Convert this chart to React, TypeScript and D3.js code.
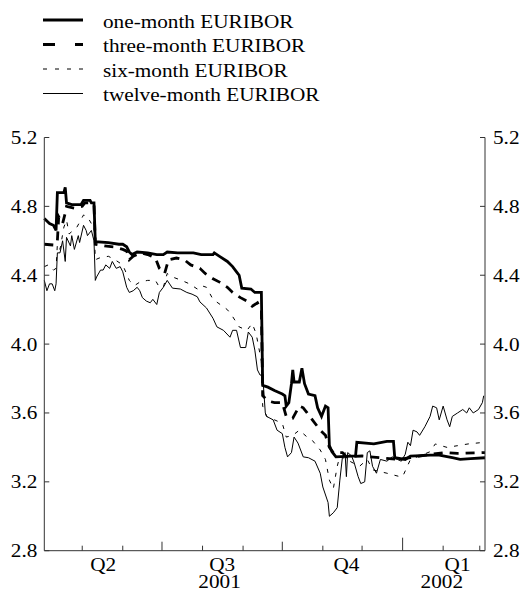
import React from "react";
import * as d3 from "d3";

type Pt = [string, number];

const oneMonth: Pt[] = [
  ["2001-04-02",4.73],["2001-04-06",4.70],["2001-04-09",4.69],["2001-04-11",4.66],["2001-04-12",4.88],["2001-04-17",4.88],["2001-04-18",4.91],["2001-04-19",4.82],["2001-04-23",4.81],["2001-04-30",4.81],["2001-05-02",4.835],["2001-05-07",4.835],["2001-05-08",4.82],["2001-05-10",4.82],["2001-05-11",4.595],["2001-05-21",4.59],["2001-05-29",4.58],["2001-06-01",4.58],["2001-06-04",4.565],["2001-06-06",4.535],["2001-06-08",4.52],["2001-06-12",4.535],["2001-06-20",4.53],["2001-06-27",4.52],["2001-07-02",4.52],["2001-07-05",4.535],["2001-07-13",4.53],["2001-07-25",4.53],["2001-07-31",4.52],["2001-08-09",4.52],["2001-08-10",4.53],["2001-08-14",4.51],["2001-08-20",4.48],["2001-08-24",4.45],["2001-08-27",4.42],["2001-08-29",4.40],["2001-08-31",4.325],["2001-09-07",4.32],["2001-09-10",4.30],["2001-09-15",4.30],["2001-09-16",3.76],["2001-09-20",3.75],["2001-09-25",3.73],["2001-10-01",3.71],["2001-10-03",3.70],["2001-10-04",3.64],["2001-10-06",3.66],["2001-10-08",3.77],["2001-10-09",3.85],["2001-10-10",3.78],["2001-10-14",3.78],["2001-10-16",3.86],["2001-10-18",3.77],["2001-10-21",3.71],["2001-10-26",3.70],["2001-10-28",3.63],["2001-10-31",3.58],["2001-11-03",3.64],["2001-11-05",3.63],["2001-11-06",3.41],["2001-11-08",3.375],["2001-11-11",3.345],["2001-11-26",3.35],["2001-11-27",3.43],["2001-12-10",3.42],["2001-12-20",3.435],["2001-12-25",3.435],["2001-12-26",3.34],["2002-01-03",3.33],["2002-01-07",3.35],["2002-01-22",3.355],["2002-01-29",3.355],["2002-02-08",3.34],["2002-02-14",3.33],["2002-02-22",3.335],["2002-03-05",3.34]
];

const threeMonth: Pt[] = [
  ["2001-04-02",4.58],["2001-04-10",4.575],["2001-04-12",4.60],["2001-04-13",4.74],["2001-04-16",4.70],["2001-04-18",4.76],["2001-04-19",4.80],["2001-04-25",4.79],["2001-05-01",4.80],["2001-05-03",4.82],["2001-05-07",4.82],["2001-05-10",4.81],["2001-05-11",4.58],["2001-05-18",4.57],["2001-05-25",4.565],["2001-06-01",4.55],["2001-06-04",4.54],["2001-06-06",4.49],["2001-06-09",4.51],["2001-06-15",4.53],["2001-06-20",4.52],["2001-06-26",4.50],["2001-06-29",4.44],["2001-07-03",4.41],["2001-07-06",4.49],["2001-07-12",4.50],["2001-07-18",4.49],["2001-07-23",4.46],["2001-07-30",4.44],["2001-08-03",4.41],["2001-08-09",4.38],["2001-08-14",4.36],["2001-08-20",4.33],["2001-08-24",4.30],["2001-08-30",4.27],["2001-09-04",4.25],["2001-09-08",4.22],["2001-09-12",4.24],["2001-09-15",4.20],["2001-09-16",3.70],["2001-09-20",3.67],["2001-09-25",3.66],["2001-10-01",3.66],["2001-10-04",3.58],["2001-10-09",3.57],["2001-10-14",3.64],["2001-10-17",3.63],["2001-10-20",3.60],["2001-10-24",3.56],["2001-10-30",3.50],["2001-11-03",3.47],["2001-11-06",3.40],["2001-11-09",3.37],["2001-11-16",3.37],["2001-11-19",3.345],["2001-12-01",3.35],["2001-12-15",3.34],["2001-12-28",3.33],["2002-01-07",3.34],["2002-01-14",3.35],["2002-01-22",3.36],["2002-02-04",3.37],["2002-02-12",3.365],["2002-03-05",3.37]
];

const sixMonth: Pt[] = [
  ["2001-04-02",4.45],["2001-04-05",4.46],["2001-04-09",4.43],["2001-04-11",4.44],["2001-04-12",4.58],["2001-04-14",4.55],["2001-04-17",4.68],["2001-04-19",4.72],["2001-04-21",4.64],["2001-04-24",4.66],["2001-04-27",4.68],["2001-05-02",4.75],["2001-05-05",4.74],["2001-05-08",4.70],["2001-05-10",4.70],["2001-05-11",4.49],["2001-05-14",4.50],["2001-05-21",4.51],["2001-05-26",4.49],["2001-06-01",4.46],["2001-06-06",4.37],["2001-06-10",4.34],["2001-06-14",4.36],["2001-06-20",4.37],["2001-06-26",4.37],["2001-06-29",4.33],["2001-07-02",4.33],["2001-07-05",4.41],["2001-07-09",4.39],["2001-07-16",4.37],["2001-07-22",4.35],["2001-07-28",4.32],["2001-07-31",4.34],["2001-08-04",4.33],["2001-08-09",4.26],["2001-08-20",4.20],["2001-08-24",4.16],["2001-08-29",4.10],["2001-09-04",4.08],["2001-09-08",4.12],["2001-09-11",4.06],["2001-09-13",3.98],["2001-09-15",3.90],["2001-09-16",3.64],["2001-09-19",3.58],["2001-09-25",3.56],["2001-10-01",3.54],["2001-10-04",3.46],["2001-10-09",3.47],["2001-10-14",3.50],["2001-10-20",3.46],["2001-10-24",3.44],["2001-10-30",3.385],["2001-11-03",3.33],["2001-11-06",3.21],["2001-11-09",3.16],["2001-11-12",3.29],["2001-11-14",3.35],["2001-11-19",3.33],["2001-11-29",3.29],["2001-12-05",3.33],["2001-12-09",3.27],["2001-12-20",3.25],["2001-12-30",3.23],["2002-01-01",3.23],["2002-01-07",3.33],["2002-01-14",3.35],["2002-01-22",3.375],["2002-01-26",3.42],["2002-02-04",3.40],["2002-02-12",3.41],["2002-02-20",3.42],["2002-03-05",3.43]
];

const twelveMonth: Pt[] = [
  ["2001-04-02",4.37],["2001-04-04",4.31],["2001-04-06",4.35],["2001-04-08",4.35],["2001-04-10",4.31],["2001-04-11",4.35],["2001-04-12",4.53],["2001-04-14",4.53],["2001-04-16",4.60],["2001-04-18",4.48],["2001-04-19",4.62],["2001-04-22",4.57],["2001-04-23",4.63],["2001-04-25",4.55],["2001-04-28",4.63],["2001-04-29",4.59],["2001-05-02",4.69],["2001-05-04",4.66],["2001-05-05",4.63],["2001-05-08",4.66],["2001-05-10",4.60],["2001-05-11",4.37],["2001-05-12",4.39],["2001-05-15",4.43],["2001-05-17",4.43],["2001-05-19",4.46],["2001-05-22",4.44],["2001-05-24",4.48],["2001-05-27",4.44],["2001-05-30",4.45],["2001-06-01",4.42],["2001-06-04",4.33],["2001-06-06",4.30],["2001-06-09",4.31],["2001-06-12",4.33],["2001-06-14",4.31],["2001-06-16",4.27],["2001-06-19",4.25],["2001-06-22",4.24],["2001-06-24",4.26],["2001-06-27",4.23],["2001-06-29",4.30],["2001-07-02",4.33],["2001-07-05",4.37],["2001-07-09",4.325],["2001-07-15",4.32],["2001-07-20",4.30],["2001-07-24",4.29],["2001-07-28",4.275],["2001-07-30",4.245],["2001-08-04",4.21],["2001-08-09",4.15],["2001-08-12",4.10],["2001-08-17",4.08],["2001-08-22",4.04],["2001-08-24",4.08],["2001-08-27",4.08],["2001-08-30",3.98],["2001-09-03",3.98],["2001-09-05",4.07],["2001-09-08",4.04],["2001-09-10",3.965],["2001-09-12",3.85],["2001-09-14",3.82],["2001-09-16",3.82],["2001-09-18",3.60],["2001-09-19",3.58],["2001-09-24",3.56],["2001-09-27",3.50],["2001-10-01",3.48],["2001-10-03",3.40],["2001-10-05",3.345],["2001-10-08",3.37],["2001-10-10",3.46],["2001-10-13",3.425],["2001-10-17",3.345],["2001-10-21",3.34],["2001-10-26",3.32],["2001-10-30",3.25],["2001-11-01",3.17],["2001-11-05",3.08],["2001-11-06",3.00],["2001-11-09",3.02],["2001-11-12",3.05],["2001-11-14",3.21],["2001-11-16",3.345],["2001-11-18",3.37],["2001-11-19",3.23],["2001-11-20",3.37],["2001-11-23",3.35],["2001-11-25",3.31],["2001-11-28",3.23],["2001-11-30",3.19],["2001-12-03",3.20],["2001-12-05",3.37],["2001-12-07",3.38],["2001-12-09",3.29],["2001-12-12",3.25],["2001-12-15",3.33],["2001-12-20",3.32],["2001-12-24",3.345],["2001-12-28",3.33],["2001-12-31",3.32],["2002-01-03",3.36],["2002-01-05",3.43],["2002-01-07",3.41],["2002-01-09",3.50],["2002-01-12",3.49],["2002-01-14",3.47],["2002-01-18",3.52],["2002-01-22",3.58],["2002-01-24",3.64],["2002-01-27",3.63],["2002-01-29",3.56],["2002-02-01",3.64],["2002-02-04",3.56],["2002-02-06",3.52],["2002-02-08",3.58],["2002-02-12",3.60],["2002-02-16",3.62],["2002-02-19",3.60],["2002-02-21",3.63],["2002-02-24",3.60],["2002-02-28",3.62],["2002-03-03",3.66],["2002-03-04",3.70]
];

const seriesNames = ["one-month EURIBOR", "three-month EURIBOR", "six-month EURIBOR", "twelve-month EURIBOR"];
const yTicks = [2.8, 3.2, 3.6, 4.0, 4.4, 4.8, 5.2];
const quarterDates = ["2001-05-17", "2001-08-16", "2001-11-19", "2002-02-12"];
const quarterNames = ["Q2", "Q3", "Q4", "Q1"];
const yearDates = ["2001-08-14", "2002-01-31"];
const yearNames = ["2001", "2002"];

const parse = d3.timeParse("%Y-%m-%d");
const FONT = "Liberation Serif, DejaVu Serif, Times New Roman, serif";
const FS = 19.5;
const SX = 1.09;

export default function App() {
  const W = 526, H = 595;
  const left = 44.3, right = 485, top = 137.5, bottom = 550.7;
  const x = d3.scaleTime().domain([parse("2001-04-02")!, parse("2002-03-05")!]).range([left, right]);
  const y = d3.scaleLinear().domain([2.8, 5.2]).range([bottom, top]);
  const line = d3.line<Pt>().x(d => x(parse(d[0])!)).y(d => y(d[1]));

  const styles = [
    { data: oneMonth, width: 2.8, dash: undefined as string | undefined, legDash: undefined as string | undefined },
    { data: threeMonth, width: 2.8, dash: "9,7", legDash: "12,20" },
    { data: sixMonth, width: 1, dash: "4,7", legDash: "4,8" },
    { data: twelveMonth, width: 1, dash: undefined, legDash: undefined },
  ];

  const months = d3.timeMonth.range(new Date(2001, 4, 1), new Date(2002, 2, 2));
  const tickLen = (d: Date) => (d.getMonth() === 0 ? 13 : d.getMonth() % 3 === 0 ? 9 : 5);
  const fmt = d3.format(".1f");
  const axisColor = "#333";

  const stretched = (tx: number, ty: number, txt: string, anchor: string, key: string) => (
    <text key={key} transform={`translate(${tx},${ty}) scale(${SX},1)`} textAnchor={anchor}
      style={{ fontFamily: FONT, fontSize: FS }} fill="#000">{txt}</text>
  );

  const legendBase = [27.5, 52, 76.5, 101];

  return (
    <svg width={W} height={H} style={{ position: "absolute", left: 0, top: 0, background: "#fff" }}>
      <rect width={W} height={H} fill="#fff" />
      {seriesNames.map((n, i) => (
        <g key={n}>
          <line x1={43} x2={83} y1={legendBase[i] - 7.5} y2={legendBase[i] - 7.5} stroke="#000"
            strokeWidth={styles[i].width} strokeDasharray={styles[i].legDash} />
          {stretched(103, legendBase[i], n, "start", "lt" + i)}
        </g>
      ))}
      {styles.map((s, i) => (
        <path key={"s" + i} d={line(s.data) || ""} fill="none" stroke="#000" strokeWidth={s.width}
          strokeDasharray={s.dash} strokeLinejoin="miter" />
      ))}
      <line x1={left} x2={left} y1={top} y2={bottom} stroke={axisColor} strokeWidth={1} />
      <line x1={right} x2={right} y1={top} y2={bottom} stroke={axisColor} strokeWidth={1} />
      <line x1={left} x2={right} y1={bottom} y2={bottom} stroke={axisColor} strokeWidth={1} />
      {yTicks.map(t => (
        <g key={"y" + t}>
          <line x1={left} x2={left + 5} y1={y(t)} y2={y(t)} stroke={axisColor} />
          <line x1={right - 5} x2={right} y1={y(t)} y2={y(t)} stroke={axisColor} />
          {stretched(left - 7, y(t) + 6.5, fmt(t), "end", "yl" + t)}
          {stretched(right + 8, y(t) + 6.5, fmt(t), "start", "yr" + t)}
        </g>
      ))}
      {months.map(m => (
        <line key={"m" + m.getTime()} x1={x(m)} x2={x(m)} y1={bottom} y2={bottom - tickLen(m)} stroke={axisColor} />
      ))}
      {quarterDates.map((q, i) => stretched(x(parse(q)!), 570.5, quarterNames[i], "middle", "q" + i))}
      {yearDates.map((q, i) => stretched(x(parse(q)!), 588, yearNames[i], "middle", "yy" + i))}
    </svg>
  );
}
